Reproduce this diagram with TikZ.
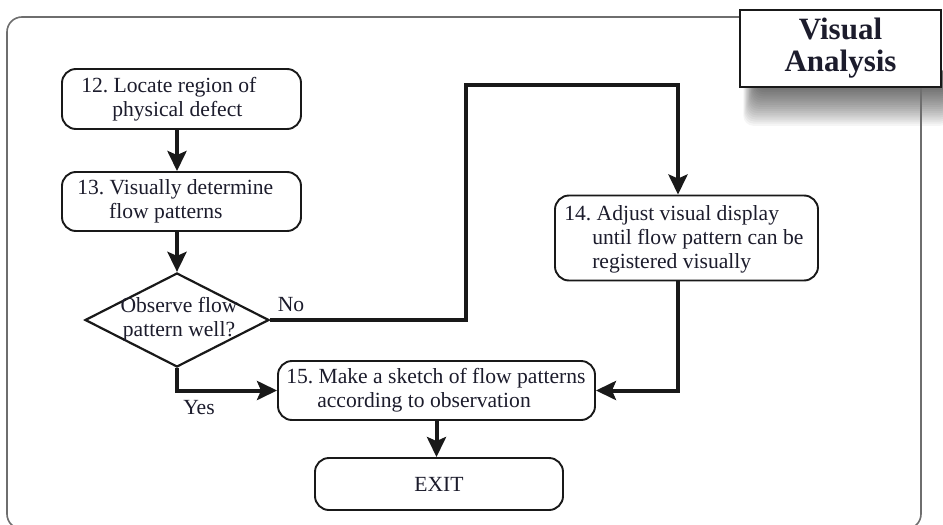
\documentclass[tikz,border=0pt]{standalone}
\usepackage{fontspec}
\setmainfont{Liberation Serif}
\frenchspacing
\usetikzlibrary{shapes.geometric,arrows.meta,calc}
\definecolor{txt}{HTML}{1C1C2C}
\definecolor{framegray}{HTML}{6E6E6E}
\tikzset{
  stepbox/.style={draw=black!90, line width=1.9pt, rounded corners=14pt, fill=white, inner sep=0pt},
  conn/.style={draw=black!90, line width=4pt, -{Stealth[length=20pt,width=19pt,inset=4pt]}},
  lbl/.style={text=txt, font=\fontsize{21.6}{24}\selectfont\frenchspacing, inner sep=0pt},
  steptext/.style={lbl, align=left, anchor=west},
}
\begin{document}
\begin{tikzpicture}[x=1pt,y=-1pt]
\clip (0,0) rectangle (943,525);
\fill[white] (0,0) rectangle (943,525);
% outer frame
\draw[framegray, line width=1.6pt, rounded corners=15pt] (7,17) rectangle (921,529);
% shadow of title box
\foreach \i in {0,...,18}{
  \fill[black, opacity=0.04, rounded corners=10pt] (756-\i*0.7, 70) rectangle (950, 88+\i*2.1);
}
\draw[framegray, line width=1.6pt] (921,88) -- (921,140);
% title box
\node[draw=black!90, line width=2.6pt, fill=white, minimum width=201pt, minimum height=77pt,
  align=center, text=txt, font=\fontsize{31}{32}\selectfont\bfseries] (va) at (840.5,48.5) {Visual\\Analysis};
% step boxes
\node[stepbox, minimum width=239pt, minimum height=60pt] (b12) at (181.5,99) {};
\node[steptext] (t12) at ($(b12.west)+(20,0)$) {12. Locate region of\\\hspace*{31pt}physical defect};
\node[stepbox, minimum width=239pt, minimum height=59pt] (b13) at (181.5,201.5) {};
\node[steptext] (t13) at ($(b13.west)+(16,0)$) {13. Visually determine\\\hspace*{32pt}flow patterns};
\node[stepbox, minimum width=263pt, minimum height=85pt] (b14) at (686.5,238) {};
\node[steptext] (t14) at ($(b14.west)+(10,1)$) {14. Adjust visual display\\\hspace*{28pt}until flow pattern can be\\\hspace*{28pt}registered visually};
\node[stepbox, minimum width=317pt, minimum height=59pt] (b15) at (436.5,390.5) {};
\node[steptext] (t15) at ($(b15.west)+(9,0)$) {15. Make a sketch of flow patterns\\\hspace*{31pt}according to observation};
\node[stepbox, minimum width=248pt, minimum height=52pt] (exit) at (439,484) {};
\node[lbl] (texit) at (exit) {EXIT};
% decision
\node[diamond, draw=black!90, line width=2.2pt, fill=white, minimum width=184pt, minimum height=94pt, inner sep=0pt] (d) at (177,320) {};
\node[lbl, align=center] (dt) at (179,319.5) {Observe flow\\pattern well?};
% connectors
\coordinate (c1) at (466,85);
\coordinate (c2) at (678,85);
\draw[conn] (b12.south -| d) -- (b13.north -| d);
\draw[conn] (b13.south -| d) -- (d.north);
\draw[conn] (d.east) -| (c1) -- (c2) -- (c2 |- b14.north);
\draw[conn] (b14.south -| c2) |- (b15.east);
\draw[conn] (d.south) |- (b15.west);
\draw[conn] (b15.south) -- (b15.south |- exit.north);
% labels
\node[lbl] (no) at (291,305) {No};
\node[lbl] (yes) at (199,408) {Yes};
\end{tikzpicture}
\end{document}
